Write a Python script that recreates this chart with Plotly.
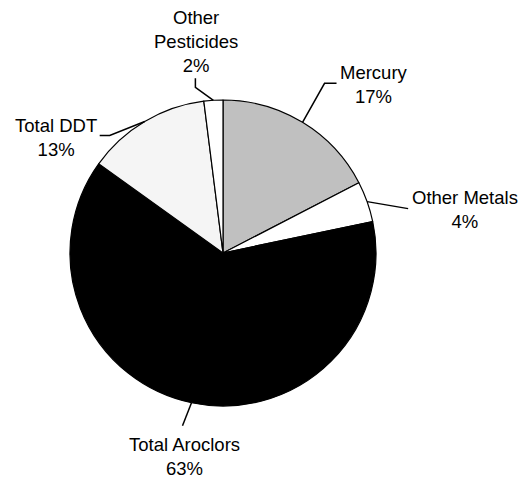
import math
import plotly.graph_objects as go

# ---- data ----
categories = ["Mercury", "Other Metals", "Total Aroclors", "Total DDT", "Other Pesticides"]
label_text = ["Mercury", "Other Metals", "Total Aroclors", "Total DDT", "Other<br>Pesticides"]
shares = [17.4, 4.3, 63.2, 13.1, 2.0]
pct_labels = ["17%", "4%", "63%", "13%", "2%"]

# ---- styles ----
colors = ["#c0c0c0", "#ffffff", "#000000", "#f5f5f5", "#ffffff"]
W, H = 525, 481
CX, CY, R = 223, 253, 153  # pie centre / radius in px

# leader line bends (px offsets from slice edge point), and text anchoring
leader = {
    "Mercury": [(22, -39), (34, -39)],
    "Other Metals": [(41, 7)],
    "Total Aroclors": [(-9, 23)],
    "Total DDT": [(-35, 14), (-45, 14)],
    "Other Pesticides": [(-18, -13), (-18, -22)],
}
anchor = {
    "Mercury": dict(dx=1, dy=1, xanchor="left", yanchor="middle"),
    "Other Metals": dict(dx=2, dy=1, xanchor="left", yanchor="middle"),
    "Total Aroclors": dict(dx=2, dy=6, xanchor="center", yanchor="top"),
    "Total DDT": dict(dx=-1, dy=2, xanchor="right", yanchor="middle"),
    "Other Pesticides": dict(dx=1, dy=0, xanchor="center", yanchor="bottom"),
}

def px(x, y):
    return x / W, 1 - y / H

fig = go.Figure(go.Pie(
    labels=categories, values=shares, sort=False, direction="clockwise", rotation=0,
    marker=dict(colors=colors, line=dict(color="#000000", width=1.2)),
    textinfo="none", hoverinfo="label+percent", showlegend=False,
    domain=dict(x=[(CX - R) / W, (CX + R) / W], y=[1 - (CY + R) / H, 1 - (CY - R) / H]),
))

total = sum(shares)
cum = 0.0
shapes, annotations = [], []
for name, txt, v, pct in zip(categories, label_text, shares, pct_labels):
    mid = (cum + v / 2) / total
    cum += v
    th = 2 * math.pi * mid
    ex, ey = CX + R * math.sin(th), CY - R * math.cos(th)
    pts = [(ex, ey)] + [(ex + dx, ey + dy) for dx, dy in leader[name]]
    path = ""
    for i, (x, y) in enumerate(pts):
        X, Y = px(x, y)
        path += ("M" if i == 0 else " L") + f"{X:.5f},{Y:.5f}"
    shapes.append(dict(type="path", xref="paper", yref="paper", path=path,
                       line=dict(color="#000000", width=1.5)))
    lx, ly = pts[-1]
    a = anchor[name]
    X, Y = px(lx + a["dx"], ly + a["dy"])
    annotations.append(dict(x=X, y=Y, xref="paper", yref="paper", showarrow=False,
                            text=f"{txt}<br>{pct}", align="center",
                            xanchor=a["xanchor"], yanchor=a["yanchor"],
                            font=dict(family="Liberation Sans, Arial", size=18.5, color="#000000")))

fig.update_layout(width=W, height=H, margin=dict(l=0, r=0, t=0, b=0),
                  paper_bgcolor="#ffffff", plot_bgcolor="#ffffff",
                  shapes=shapes, annotations=annotations)
fig.write_html("out.html", config={"displayModeBar": False},
               post_script="document.body.style.margin='0';document.body.style.overflow='hidden';")
